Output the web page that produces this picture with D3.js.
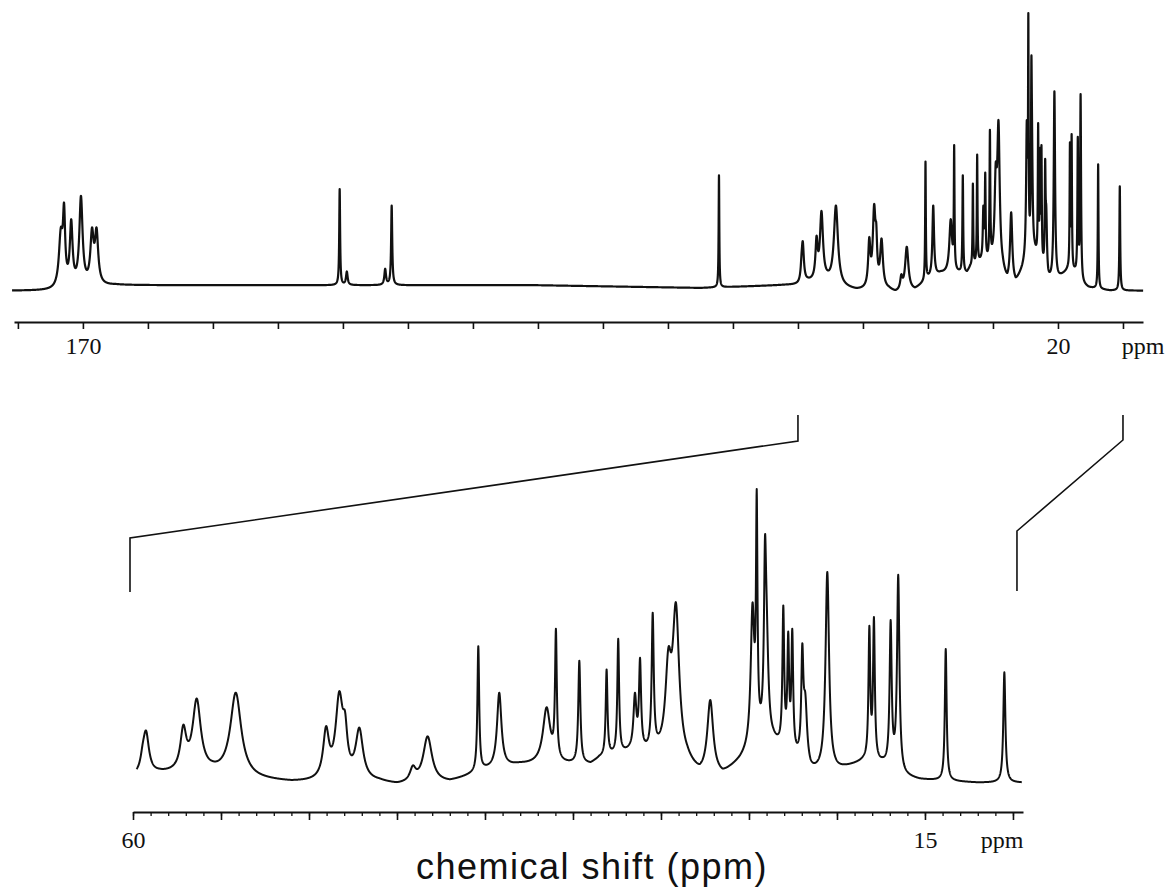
<!DOCTYPE html>
<html>
<head>
<meta charset="utf-8">
<script src="https://cdn.jsdelivr.net/npm/d3@7"></script>
<style>
  html, body { margin: 0; padding: 0; background: #fff; }
  svg { display: block; }
</style>
</head>
<body>
<svg id="chart" width="1175" height="890"></svg>
<script>
// ---- 13C spectrum: resolved resonances ----
// chemical shift (ppm), apex intensity (tallest = 100), half-width at half-height (ppm)
const peakShift = [
  173.4, 172.9, 171.8, 170.3, 168.6, 167.9,
  130.5, 129.4, 123.5, 122.5, 72.15,
  59.45, 59.26, 57.14, 56.38, 54.16,
  49.03, 48.28, 47.95, 47.14, 44.1, 43.26,
  40.38, 39.19, 36.5, 35.97, 34.64, 33.09, 32.43, 31.48, 31.19, 30.47,
  29.58, 29.15, 27.2,
  24.8, 24.56, 24.09, 24.0, 23.05, 22.77, 22.54, 21.97, 21.8, 20.55,
  18.16, 17.9, 16.95, 16.52, 13.82, 10.49
];
const peakHeight = [
  22, 31, 25, 33.5, 22, 22,
  36, 6, 7, 30, 41,
  12.5, 17, 19, 28, 30,
  18.5, 30.5, 23.5, 18, 5, 15,
  46, 30, 25, 52, 41, 38, 48.5, 30, 42, 57.5,
  45.5, 61, 27.5,
  61, 100, 84, 64, 60, 51, 52, 47, 30, 71.5,
  53, 56, 55, 70.5, 45, 37
];
const peakWidth = [
  0.35, 0.2, 0.25, 0.3, 0.3, 0.3,
  0.08, 0.15, 0.15, 0.1, 0.06,
  0.15, 0.2, 0.2, 0.28, 0.37,
  0.2, 0.25, 0.15, 0.25, 0.2, 0.3,
  0.06, 0.15, 0.25, 0.06, 0.07, 0.06, 0.06, 0.1, 0.07, 0.07,
  0.2, 0.22, 0.2,
  0.12, 0.05, 0.07, 0.12, 0.06, 0.06, 0.06, 0.07, 0.12, 0.12,
  0.06, 0.06, 0.07, 0.08, 0.06, 0.07
];

// baseline level (same intensity units) under the spectrum
const baseShift = [181, 174.5, 165, 135, 100, 75, 62, 60, 58.5, 55.5, 53, 51, 46, 45, 42, 41, 40, 38, 34, 33.5, 31.8, 30, 28.5, 27.8, 26.5, 25.5, 24.5, 23.6, 22.2, 21.5, 20, 18.5, 17.4, 16.2, 15.3, 12, 6.9];
const baseLevel = [-1, -1, 1, 1, 1, 0, 1, 1, 2, 2, 0, -1, -1, -2, -1, 1, 3, 5, 5, 7, 9, 8, 5, 1, 1, 6, 12, 12, 6, 2, 3, 6, 5, 1, 0, -1, -1];

// ---- axes ----
const fullTicks = d3.range(10, 181, 10);
const fullLabels = [170, 20];
const zoomMajorTicks = d3.range(10, 61, 5);
const zoomMinorTicks = d3.range(10, 61, 1);
const zoomLabels = [60, 15];
const expansion = [60, 10];
const unitLabel = "ppm";
const axisTitle = "chemical shift (ppm)";

const svg = d3.select("#chart");
svg.append("rect").attr("width", 1175).attr("height", 890).attr("fill", "#fff");

const ink = "#111";
const serif = "'Liberation Serif', 'Times New Roman', serif";

// Lorentzian line shape
const lor = (x, c, w) => 1 / (1 + ((x - c) / w) * ((x - c) / w));
const baseline = d3.scaleLinear().domain(baseShift).range(baseLevel).clamp(true);

// amplitudes such that each resonance reaches its apex intensity on top of its neighbours
const n = peakShift.length;
const amp = peakHeight.map((h, i) => h - baseline(peakShift[i]));
for (let it = 0; it < 300; it++) {
  for (let i = 0; i < n; i++) {
    let s = 0;
    for (let j = 0; j < n; j++) if (j !== i) s += amp[j] * lor(peakShift[i], peakShift[j], peakWidth[j]);
    amp[i] = Math.max(0, peakHeight[i] - baseline(peakShift[i]) - s);
  }
}
const intensity = x => {
  let s = baseline(x);
  for (let j = 0; j < n; j++) s += amp[j] * lor(x, peakShift[j], peakWidth[j]);
  return s;
};

function trace(hi, lo) {
  const grid = d3.range(Math.round(hi * 100), Math.round(lo * 100) - 1, -1).map(v => v / 100);
  peakShift.forEach(p => { if (p <= hi && p >= lo) grid.push(p); });
  grid.sort((a, b) => b - a);
  return grid.map(x => [x, intensity(x)]);
}

// ---- full spectrum ----
const xTop = d3.scaleLinear().domain([180.6, 6.92]).range([14, 1143]);
const yTop = d3.scaleLinear().domain([0, 100]).range([288, 13]);

svg.append("path")
  .datum(trace(180.9, 6.9))
  .attr("fill", "none")
  .attr("stroke", ink)
  .attr("stroke-width", 2.2)
  .attr("stroke-linejoin", "round")
  .attr("d", d3.line().x(d => xTop(d[0])).y(d => yTop(d[1])));

const topAxis = svg.append("g")
  .attr("transform", "translate(0,322)")
  .call(d3.axisBottom(xTop)
    .tickValues(fullTicks)
    .tickSize(7)
    .tickSizeOuter(0)
    .tickPadding(8)
    .tickFormat(d => fullLabels.includes(d) ? d : ""));
topAxis.select(".domain").attr("stroke", ink).attr("stroke-width", 2);
topAxis.selectAll(".tick line").attr("stroke", ink).attr("stroke-width", 1.6);
topAxis.selectAll(".tick text").attr("fill", ink).attr("font-family", serif).attr("font-size", 24);

svg.append("text")
  .attr("x", xTop.range()[1]).attr("y", 354)
  .attr("text-anchor", "middle")
  .attr("font-family", serif).attr("font-size", 24).attr("fill", ink)
  .text(unitLabel);

// ---- expanded region ----
const xBot = d3.scaleLinear().domain([60, 9.43]).range([133, 1023]);
const yBot = d3.scaleLinear().domain([0, 100]).range([780, 489]);

svg.append("path")
  .datum(trace(59.8, 9.5))
  .attr("fill", "none")
  .attr("stroke", ink)
  .attr("stroke-width", 2)
  .attr("stroke-linejoin", "round")
  .attr("d", d3.line().x(d => xBot(d[0])).y(d => yBot(d[1])));

const minorAxis = svg.append("g")
  .attr("transform", "translate(0,812)")
  .call(d3.axisBottom(xBot).tickValues(zoomMinorTicks).tickSize(4).tickSizeOuter(0).tickFormat(""));
minorAxis.select(".domain").attr("stroke", ink).attr("stroke-width", 2);
minorAxis.selectAll(".tick line").attr("stroke", ink).attr("stroke-width", 1.3);

const majorAxis = svg.append("g")
  .attr("transform", "translate(0,812)")
  .call(d3.axisBottom(xBot)
    .tickValues(zoomMajorTicks)
    .tickSize(8)
    .tickSizeOuter(0)
    .tickPadding(11)
    .tickFormat(d => zoomLabels.includes(d) ? d : ""));
majorAxis.select(".domain").remove();
majorAxis.selectAll(".tick line").attr("stroke", ink).attr("stroke-width", 1.6);
majorAxis.selectAll(".tick text").attr("fill", ink).attr("font-family", serif).attr("font-size", 24);

svg.append("text")
  .attr("x", xBot(10) - 11).attr("y", 848)
  .attr("text-anchor", "middle")
  .attr("font-family", serif).attr("font-size", 24).attr("fill", ink)
  .text(unitLabel);

// ---- expansion brackets linking the two traces ----
const bracketLeft = d3.path();
bracketLeft.moveTo(xTop(expansion[0]), 415);
bracketLeft.lineTo(xTop(expansion[0]), 441);
bracketLeft.lineTo(xBot(expansion[0]) - 3, 538);
bracketLeft.lineTo(xBot(expansion[0]) - 3, 592);
const bracketRight = d3.path();
bracketRight.moveTo(xTop(expansion[1]), 415);
bracketRight.lineTo(xTop(expansion[1]), 440);
bracketRight.lineTo(xBot(expansion[1]) + 4, 531);
bracketRight.lineTo(xBot(expansion[1]) + 4, 591);
[bracketLeft, bracketRight].forEach(p => {
  svg.append("path").attr("d", p.toString())
    .attr("fill", "none").attr("stroke", ink).attr("stroke-width", 1.6);
});

// ---- axis title ----
svg.append("text")
  .attr("x", 592).attr("y", 879)
  .attr("text-anchor", "middle")
  .attr("font-family", "'Liberation Sans', Arial, sans-serif")
  .attr("font-size", 36)
  .attr("letter-spacing", 1.5)
  .attr("fill", ink)
  .text(axisTitle);
</script>
</body>
</html>
